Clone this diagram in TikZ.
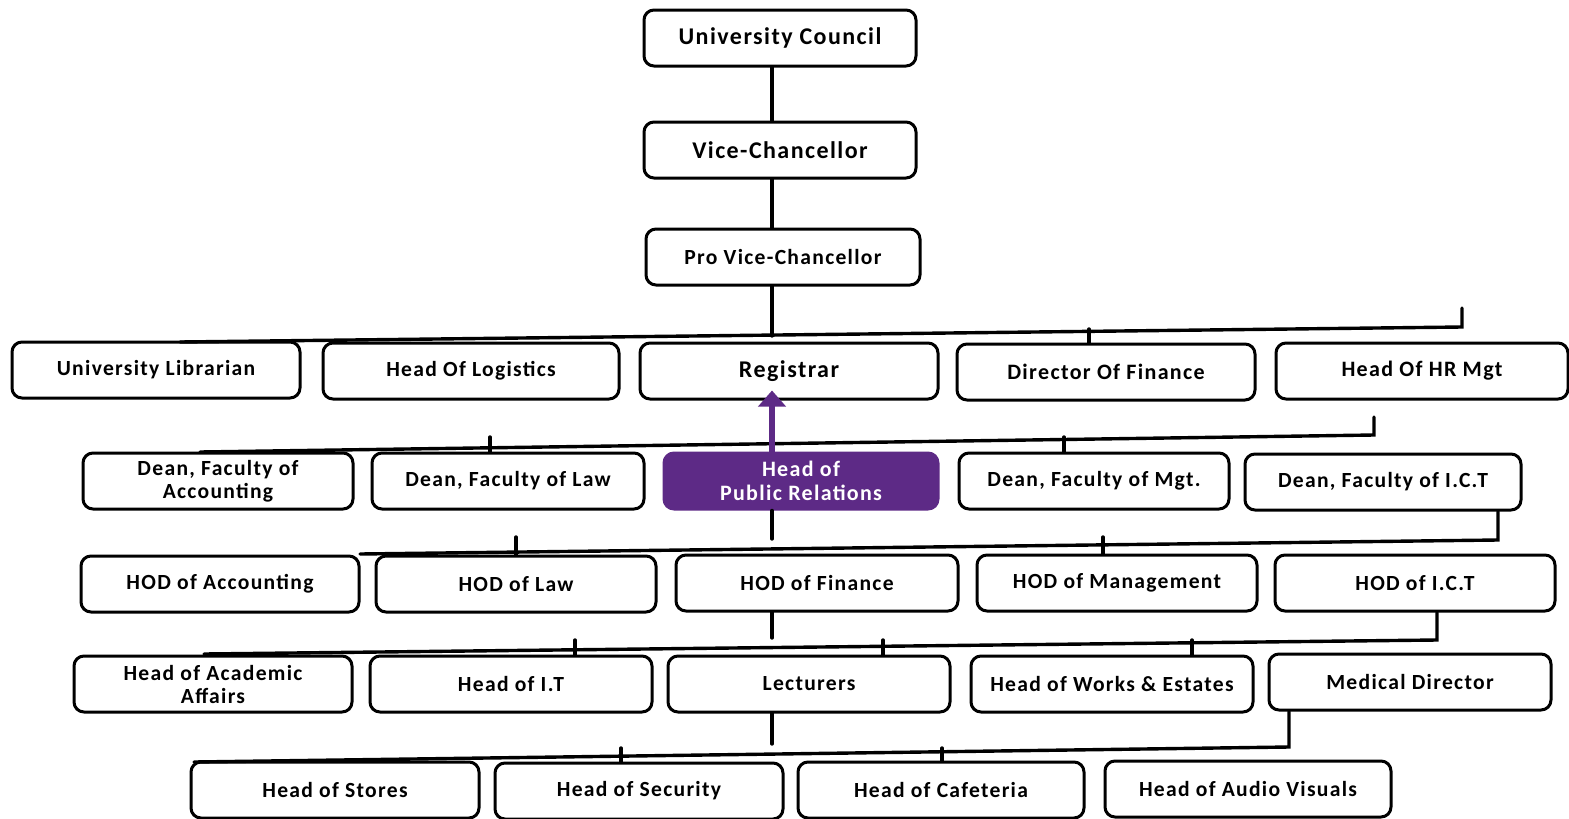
\documentclass[tikz,border=0pt]{standalone}
\usepackage{fontspec}
\setmainfont{Carlito}[LetterSpace=6]
\usetikzlibrary{arrows.meta,calc}
\definecolor{prpurple}{HTML}{5D2A86}

\tikzset{
  unit/.style={draw, rounded corners=5pt, line width=1.5pt, minimum height=28pt,
    inner sep=1pt, align=center, font=\bfseries\fontsize{10.8}{11.5}\selectfont},
  prunit/.style={unit, draw=prpurple, fill=prpurple, text=white},
  link/.style={line width=1.7pt, line cap=round},
}

\begin{document}
\begin{tikzpicture}[x=0.5pt, y=-0.5pt]
    \useasboundingbox (0,0) rectangle (1569,819);
    \coordinate (spine) at (772,0);

    % Sommet
    \node[unit, minimum width=136pt, font=\bfseries\fontsize{12}{13}\selectfont] (council) at (780,38) {University Council};
    \node[unit, minimum width=136pt, font=\bfseries\fontsize{12}{13}\selectfont] (vc) at (780,150) {Vice-Chancellor};
    \node[unit, minimum width=137pt] (provc) at (783,257) {Pro Vice-Chancellor};

    \draw[link] (council.south -| spine) -- (vc.north -| spine);
    \draw[link] (vc.south -| spine) -- (provc.north -| spine);

    % Rang 1
    \node[unit, minimum width=144pt] (librarian) at (156,370) {University Librarian};
    \node[unit, minimum width=148pt] (logistics) at (471,371) {Head Of Logistics};
    \node[unit, minimum width=149pt, font=\bfseries\fontsize{12}{13}\selectfont] (registrar) at (789,371) {Registrar};
    \node[unit, minimum width=149pt, font=\bfseries\fontsize{11}{12}\selectfont] (dirfin) at (1106,372) {Director Of Finance};
    \node[unit, minimum width=146pt, font=\bfseries\fontsize{11}{12}\selectfont] (hrmgt) at (1422,371) {Head Of HR Mgt};

    \coordinate (r1L) at (180,342);
    \coordinate (r1R) at (1462,327);
    \coordinate (r1E) at (1462,308);
    \coordinate (t1pro) at (772,336);
    \coordinate (t1fin) at (1089,329);
    \draw[link] (r1L) -- (r1R) -- (r1E);
    \draw[link] (provc.south -| spine) -- (t1pro);
    \draw[link] (dirfin.north -| t1fin) -- (t1fin);

    % Rang 2
    \coordinate (r2L) at (200,452);
    \coordinate (r2R) at (1374,435);
    \coordinate (r2E) at (1374,417);
    \coordinate (t2law) at (490,437);
    \coordinate (t2mgt) at (1064,437);
    \draw[link] (r2L) -- (r2R) -- (r2E);

    \node[unit, minimum width=135pt] (deanacc) at (218,481) {Dean, Faculty of\\Accounting};
    \node[unit, minimum width=136pt] (deanlaw) at (508,481) {Dean, Faculty of Law};
    \node[prunit, minimum width=137pt, font=\bfseries\fontsize{11}{12}\selectfont] (pubrel) at (801,481) {Head of\\Public Relations};
    \node[unit, minimum width=135pt] (deanmgt) at (1094,481) {Dean, Faculty of Mgt.};
    \node[unit, minimum width=138pt] (deanict) at (1383,482) {Dean, Faculty of I.C.T};

    \draw[link] (deanlaw.north -| t2law) -- (t2law);
    \draw[link] (deanmgt.north -| t2mgt) -- (t2mgt);
    \draw[prpurple, line width=3pt, -{Triangle[width=13.5pt, length=8pt]}]
      (pubrel.north -| spine) -- ([yshift=5pt]registrar.south -| spine);

    % Rang 3
    \node[unit, minimum width=139pt] (hodacc) at (220,584) {HOD of Accounting};
    \node[unit, minimum width=140pt] (hodlaw) at (516,584) {HOD of Law};
    \node[unit, minimum width=141pt] (hodfin) at (817,583) {HOD of Finance};
    \node[unit, minimum width=140pt] (hodmgt) at (1117,583) {HOD of Management};
    \node[unit, minimum width=140pt] (hodict) at (1415,583) {HOD of I.C.T};

    \coordinate (r3L) at (360,554);
    \coordinate (r3R) at (1498,540);
    \coordinate (t3pr) at (772,539);
    \coordinate (t3law) at (516,537);
    \coordinate (t3mgt) at (1103,537);
    \draw[link] (r3L) -- (r3R) -- (deanict.south -| r3R);
    \draw[link] (pubrel.south -| spine) -- (t3pr);
    \draw[link] (hodlaw.north -| t3law) -- (t3law);
    \draw[link] (hodmgt.north -| t3mgt) -- (t3mgt);

    % Rang 4
    \node[unit, minimum width=139pt] (acad) at (213,684) {Head of Academic\\Affairs};
    \node[unit, minimum width=141pt] (headit) at (511,684) {Head of I.T};
    \node[unit, minimum width=141pt] (lect) at (809,684) {Lecturers};
    \node[unit, minimum width=141pt] (works) at (1112,684) {Head of Works \& Estates};
    \node[unit, minimum width=141pt] (medical) at (1410,682) {Medical Director};

    \coordinate (r4L) at (204,654);
    \coordinate (r4R) at (1437,640);
    \coordinate (t4fin) at (772,638);
    \coordinate (t4it) at (575,640);
    \coordinate (t4lect) at (883,640);
    \coordinate (t4works) at (1192,640);
    \draw[link] (r4L) -- (r4R) -- (hodict.south -| r4R);
    \draw[link] (hodfin.south -| spine) -- (t4fin);
    \draw[link] (headit.north -| t4it) -- (t4it);
    \draw[link] (lect.north -| t4lect) -- (t4lect);
    \draw[link] (works.north -| t4works) -- (t4works);

    % Rang 5
    \node[unit, minimum width=144pt] (stores) at (335,790) {Head of Stores};
    \node[unit, minimum width=144pt] (security) at (639,791) {Head of Security};
    \node[unit, minimum width=143pt] (cafeteria) at (941,790) {Head of Cafeteria};
    \node[unit, minimum width=143pt] (audio) at (1248,789) {Head of Audio Visuals};

    \coordinate (r5L) at (194,762);
    \coordinate (r5R) at (1289,747);
    \coordinate (t5lect) at (772,744);
    \coordinate (t5sec) at (621,748);
    \coordinate (t5caf) at (942,748);
    \draw[link] (r5L) -- (r5R) -- (medical.south -| r5R);
    \draw[link] (lect.south -| spine) -- (t5lect);
    \draw[link] (security.north -| t5sec) -- (t5sec);
    \draw[link] (cafeteria.north -| t5caf) -- (t5caf);
\end{tikzpicture}
\end{document}
